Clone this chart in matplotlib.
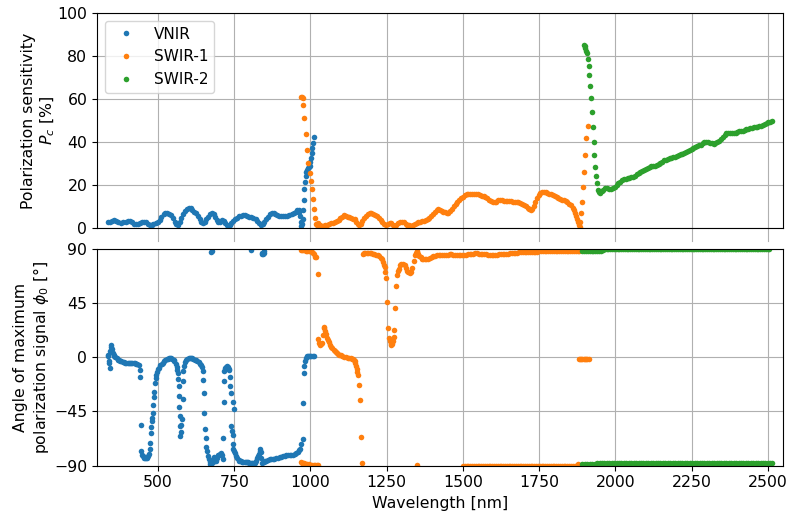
import numpy as np
import matplotlib
matplotlib.use("Agg")
import matplotlib.pyplot as plt

# ---------------- data (wavelength nm, value) ----------------
vnir_pc = [(335,3.0),(342,2.8),(350,3.3),(356,3.8),(363,3.4),(370,2.9),(378,2.5),(386,2.6),(394,3.0),(400,3.4),
 (407,3.2),(414,2.6),(421,2.0),(428,1.7),(435,2.0),(442,2.5),(449,2.9),(455,2.9),(461,2.6),(467,2.0),(473,1.6),
 (479,1.4),(485,1.8),(492,2.3),(499,2.6),(505,3.5),(511,5.0),(518,6.3),(524,7.1),(530,7.1),(537,6.6),(543,6.0),
 (549,4.6),(555,3.0),(560,2.0),(565,1.3),(571,2.6),(577,4.5),(583,6.3),(589,8.0),(595,9.0),(601,9.5),(607,9.3),
 (613,8.4),(619,7.5),(625,6.8),(631,5.5),(637,4.2),(642,3.0),(647,2.2),(653,3.0),(659,4.2),(665,5.2),(671,6.3),
 (677,6.8),(683,6.5),(688,5.0),(693,3.6),(698,2.9),(704,3.0),(710,3.6),(715,3.4),(720,2.2),(725,1.3),(730,0.9),
 (736,1.3),(741,2.2),(747,3.2),(753,4.2),(759,4.8),(765,5.4),(771,5.8),(778,6.0),(785,5.9),(792,5.6),(799,5.3),
 (806,5.0),(813,4.6),(820,4.0),(826,3.2),(832,2.4),(838,1.5),(843,1.7),(849,2.8),(855,4.0),(861,5.2),(867,6.3),
 (873,6.9),(879,7.1),(885,6.7),(891,6.0),(897,5.5),(903,5.4),(910,5.4),(917,5.5),(924,5.8),(931,6.0),(938,6.3),
 (945,6.8),(951,7.6),(956,8.2),(961,8.4),(964,7.5),(966,5.5),(968,3.0),(970,0.8),(972,2.0),(974,4.3),(976,8.5),
 (978,13.0),(980,18.0),(982,21.5),(984,24.0),(986,26.0),(988,27.0),(991,27.8),(994,28.3),(997,28.6),(1000,30.5),
 (1002,32.5),(1004,35.0),(1006,37.0),(1008,39.5),(1010,42.5)]

swir1_pc = [(969,61.1),(972,61.0),(974,60.6),(976,57.0),(980,51.2),(984,43.7),(989,36.4),(993,30.4),(998,25.7),
 (1002,21.9),(1005,18.0),(1009,13.5),(1013,8.7),(1016,4.5),(1019,2.0),(1022,1.2),(1024,2.2),(1030,1.5),(1036,1.0),
 (1042,1.0),(1048,1.3),(1055,1.6),(1062,1.9),(1068,2.1),(1074,2.3),(1080,2.8),(1086,3.3),(1092,3.7),(1098,4.5),
 (1104,5.3),(1110,6.0),(1116,5.7),(1122,5.2),(1128,5.0),(1134,4.7),(1140,4.3),(1145,4.0),(1150,3.0),(1155,2.0),
 (1160,1.3),(1165,2.0),(1170,3.2),(1176,4.5),(1182,5.8),(1188,6.7),(1194,7.1),(1200,7.1),(1206,6.7),(1212,6.2),
 (1218,5.5),(1224,4.6),(1230,3.8),(1236,2.8),(1242,2.0),(1248,1.4),(1254,1.8),(1260,2.2),(1265,2.2),(1270,1.5),
 (1276,0.9),(1282,1.5),(1288,2.2),(1294,2.8),(1300,2.9),(1306,2.6),(1312,2.0),(1318,1.6),(1324,1.2),(1330,1.1),
 (1336,1.5),(1342,2.0),(1348,2.5),(1354,2.8),(1360,3.0),(1366,3.2),(1372,3.4),(1378,3.7),(1384,4.2),(1390,4.8),
 (1396,5.5),(1402,6.5),(1408,7.6),(1414,8.5),(1419,8.7),(1425,8.3),(1430,7.8),(1435,7.6),(1441,7.3),(1447,7.1),
 (1452,7.2),(1458,8.0),(1464,9.0),(1470,10.0),(1476,11.0),(1482,12.0),(1488,13.0),(1494,13.9),(1500,14.6),
 (1506,15.2),(1512,15.6),(1518,15.8),(1524,15.8),(1530,15.8),(1537,15.7),(1543,15.7),(1549,15.6),(1556,15.4),
 (1562,15.1),(1568,14.7),(1574,14.3),(1580,13.8),(1586,13.1),(1592,12.5),(1598,12.0),(1604,11.9),(1610,12.3),
 (1616,12.8),(1622,13.0),(1628,12.9),(1634,12.6),(1640,12.5),(1646,12.6),(1652,12.6),(1658,12.5),(1664,12.3),
 (1670,12.3),(1676,12.2),(1682,12.0),(1688,11.5),(1694,11.0),(1700,10.5),(1706,10.0),(1712,9.5),(1718,9.0),
 (1724,8.5),(1728,8.6),(1733,10.0),(1738,12.0),(1743,14.0),(1748,15.5),(1753,16.3),(1759,16.7),(1765,16.9),
 (1771,16.8),(1777,16.5),(1783,16.0),(1789,15.6),(1795,15.2),(1801,14.8),(1807,14.4),(1813,14.0),(1819,13.6),
 (1825,13.2),(1831,12.8),(1837,12.4),(1843,11.9),(1849,11.3),(1855,10.5),(1860,9.5),(1865,8.3),(1869,7.0),
 (1872,5.5),(1875,4.0),(1877,2.8),(1880,1.5),(1883,0.6),(1885,2.6),(1888,6.8),(1891,12.2),(1895,18.9),
 (1898,26.2),(1901,34.1),(1905,41.7),(1909,47.6)]

swir2_pc = [(1896,85.1),(1899,84.5),(1901,83.6),(1904,82.5),(1907,81.3),(1909,78.4),(1912,75.3),(1915,71.2),
 (1918,66.2),(1921,60.3),(1923,53.8),(1925,46.8),(1929,40.1),(1931,34.0),(1934,28.5),(1936,24.2),(1940,20.8),
 (1943,17.7),(1946,16.8),(1950,16.4),(1955,17.0),(1960,17.8),(1967,18.5),(1973,18.6),(1980,18.3),(1986,18.2),
 (1992,18.5),(1998,19.2),(2004,20.0),(2010,20.8),(2016,21.5),(2022,22.1),(2028,22.6),(2034,22.9),(2040,23.1),
 (2046,23.3),(2052,23.5),(2058,23.9),(2064,24.4),(2070,25.0),(2076,25.6),(2082,26.1),(2088,26.4),(2094,26.8),
 (2100,27.4),(2106,28.0),(2112,28.4),(2118,28.7),(2124,28.8),(2130,28.9),(2136,29.1),(2142,29.6),(2148,30.3),
 (2154,30.9),(2160,31.4),(2166,31.8),(2172,32.1),(2178,32.4),(2184,32.7),(2190,32.9),(2196,33.2),(2202,33.6),
 (2208,34.0),(2214,34.3),(2220,34.6),(2226,34.9),(2232,35.3),(2238,35.8),(2244,36.3),(2250,36.8),(2256,37.2),
 (2262,37.6),(2268,38.0),(2274,38.4),(2280,38.8),(2286,39.3),(2292,39.8),(2298,40.2),(2304,40.2),(2310,39.7),
 (2316,39.3),(2322,39.1),(2328,39.4),(2334,40.0),(2340,40.6),(2346,41.3),(2352,42.2),(2358,43.2),(2364,44.0),
 (2370,44.3),(2376,44.2),(2382,44.0),(2388,44.1),(2394,44.4),(2400,44.7),(2406,44.9),(2412,45.1),(2418,45.3),
 (2424,45.6),(2430,45.9),(2436,46.2),(2442,46.4),(2448,46.6),(2454,46.8),(2460,46.9),(2466,47.1),(2472,47.3),
 (2478,47.6),(2484,47.9),(2490,48.3),(2496,48.7),(2502,49.1),(2508,49.5),(2514,49.8)]

vnir_phi = [(335,0.7),(337,2),(339,-3),(340,-4.8),(342,-9),(343,5),(345,8.9),(347,10.3),(349,7),(351,3.5),(354,2),
 (357,1),(360,0),(364,-1),(368,-2),(372,-2.5),(376,-3),(380,-3.5),(384,-4),(388,-4.3),(392,-4.5),(396,-4.8),
 (400,-4.8),(404,-4.8),(408,-4.9),(412,-5),(416,-5),(420,-5),(424,-5),(428,-5.2),(432,-5.5),(436,-6.2),
 (440,-10.3),(442,-16.7),(444,-56.4),(445,-77.8),(447,-81),(450,-82),(453,-83.5),(456,-84),(460,-84),(464,-83.5),
 (468,-82),(471,-80.6),(473,-76),(474,-71.7),(476,-63),(477,-58),(479,-53),(480,-50.2),(482,-46),(485,-39.3),
 (487,-33),(488,-29),(490,-21.3),(492,-17),(493,-14.5),(496,-12),(500,-10),(504,-8.9),(508,-6.8),(512,-5.5),
 (516,-4.5),(520,-3.2),(524,-2.3),(528,-1.6),(532,-1.2),(536,-0.8),(540,-0.6),(543,-0.7),(547,-1.3),(551,-2.4),
 (554,-3.4),(558,-5.5),(561,-8),(563,-10.5),(565,-13),(567,-18),(568,-23.5),(569,-32),(570,-41),(571,-49),
 (572,-57),(573,-65.4),(575,-62),(577,-56),(579,-51.7),(581,-35),(582,-20),(583,-11.7),(585,-7),(588,-4),
 (592,-2),(596,-1.2),(600,-0.8),(604,-0.6),(608,-0.7),(612,-1),(616,-1.5),(620,-2),(625,-2.6),(629,-3.4),
 (633,-4.3),(637,-5.2),(641,-6.2),(644,-8.5),(647,-11.7),(649,-18.6),(650,-29.6),(652,-46),(655,-59.3),
 (656,-66.8),(658,-75),(660,-78),(663,-82),(666,-85),(669,-87.4),(672,-89),(675,-89.5),(679,-87),(682,-85),
 (685,-83.3),(688,-84.5),(691,-86),(693,-83.5),(696,-81.4),(700,-81),(703,-80.5),(707,-79.8),(710,-81),
 (712,-84.7),(713,-67.4),(715,-37),(716,-20),(718,-11.7),(720,-9),(722,-8),(726,-7.6),(730,-8),(733,-9.5),
 (734,-10.3),(736,-16),(737,-23.5),(741,-30),(746,-37.3),(749,-43.4),(738,-57),(743,-61.3),(745,-65),
 (746,-72.3),(747,-76.4),(750,-78),(753,-80),(757,-82),(760,-84),(764,-85.5),(767,-86),(771,-86.5),(775,-87),
 (779,-87),(784,-87),(788,-87.2),(792,-87.3),(796,-87.4),(800,-87.5),(804,-87.5),(808,-87.5),(812,-87.5),
 (817,-87.5),(821,-86),(825,-84),(828,-82),(831,-80.6),(833,-78),(835,-76.4),(837,-79),(839,-84),(842,-87.5),
 (846,-87.3),(851,-86.5),(855,-86),(860,-85.5),(866,-85),(871,-84.8),(877,-84.7),(882,-84.5),(888,-84),
 (893,-83.6),(899,-83.3),(904,-82.8),(910,-82.3),(915,-81.8),(921,-81.4),(926,-81.5),(932,-81.6),(937,-81.4),
 (943,-81),(948,-80.4),(954,-79.8),(958,-79),(962,-77.5),(965,-75.9),(970,-72),(974,-68.2),(976,-38.4),
 (978,-13.1),(980,-7),(981,-3.5),(984,-1),(987,0.7),(991,0.8),(995,0.8),(999,0.7),(1003,0.7),(1007,0.7),
 (1011,0.7)]
vnir_phi_wrap = [(674,87.4),(676,88.5),(804,88.8),(840,87),(842,85.5),(844,86),(846,87),(848,88.5)]

swir1_phi = [(969,89.5),(973,89),(977,88.8),(981,88.8),(985,88.7),(990,88.5),(995,88.3),(1000,88),(1004,87.5),
 (1008,86.9),(1012,85.5),(1016,83.5),(1019,83.3),(1024,69.6),
 (1026,15),(1029,12),(1032,10.3),(1035,11),(1037,11.7),(1040,18.6),(1043,24),(1046,25.5),(1049,22),(1052,19.2),
 (1055,16),(1057,14.5),(1060,12.5),(1064,10.5),(1068,8.9),(1072,7.5),(1076,6.3),(1079,5.4),(1083,4.3),(1087,3.4),
 (1091,2.6),(1095,2.1),(1100,1.5),(1105,1),(1110,0.5),(1117,-0.2),(1122,-0.5),(1127,-0.8),(1132,-1),(1136,-1.1),
 (1139,-1.2),(1143,-2),(1145,-3.5),(1147,-4.8),(1150,-7),(1152,-9.5),(1154,-12),(1156,-15),(1159,-22.7),
 (1162,-35.7),(1165,-66),(1169,-88.3),
 (1172,86),(1176,86.8),(1180,87),(1185,87),(1190,86.8),(1195,86.5),(1200,86.3),(1205,86),(1210,85.7),(1215,85.3),
 (1221,84.7),(1226,83.8),(1230,82.5),(1234,81.3),(1238,79.5),(1241,77),(1243,75),(1246,71),(1249,66),(1252,45.6),
 (1255,24.6),(1258,16),(1260,13.6),(1263,11),(1265,9.8),(1268,11),(1271,13.1),(1273,17),(1275,22.7),(1278,41.2),
 (1282,59.3),(1285,68.2),(1288,71.5),(1290,73.7),(1294,76.5),(1298,77.8),(1303,77.8),(1309,76.4),(1314,74),
 (1318,72),(1320,70.9),(1325,70),(1331,70.9),(1334,74.2),(1339,80),(1343,84.7),(1346,87),(1348,88),(1351,87.5),
 (1353,86),(1357,84.5),(1361,83),(1365,82),(1369,81.4),(1374,81.3),(1380,81.7),(1386,82),(1392,82.8),(1397,83.4),
 (1402,83.9),(1408,84.5),(1414,84.9),(1420,85.2),(1426,85.3),(1432,85.3),(1438,85.3),(1444,85.3),(1450,85.4),
 (1456,85.5),(1462,85.5),(1468,85.4),(1474,85.3),(1480,85.2),(1486,85.1),(1492,85),(1498,84.8),(1504,84.8),
 (1510,85.2),(1516,85.6),(1522,85.9),(1528,86.1),(1534,86.2),(1540,86.3),(1546,86.3),(1552,86.2),(1558,86.1),
 (1564,86),(1570,85.8),(1576,85.6),(1582,85.3),(1588,85),(1594,84.8),(1600,84.7),(1606,85),(1612,85.4),
 (1618,85.8),(1624,86),(1630,86),(1636,86),(1642,86),(1648,86.1),(1654,86.3),(1660,86.5),(1666,86.7),(1672,86.9),
 (1678,87),(1684,87.1),(1690,87.2),(1696,87.3),(1702,87.4),(1708,87.4),(1714,87.4),(1720,87.4),(1726,87.4),
 (1732,87.4),(1738,87.6),(1744,87.8),(1750,88),(1756,88),(1762,88),(1768,88),(1774,88),(1780,88),(1786,88),
 (1792,88),(1798,88),(1804,88),(1810,88),(1816,88),(1822,88),(1828,88),(1834,88),(1840,88),(1846,88),(1852,88),
 (1858,88),(1864,88),(1870,88),(1876,88),(1882,88),
 (1880,-1.5),(1884,-1.5),(1888,-1.5),(1892,-1.5),(1896,-1.5),(1900,-1.5),(1904,-1.5),(1908,-1.5),(1912,-1.5)]
swir1_phi_wrap = [(969,-87),(972,-87.5),(976,-88),(980,-88.3),(985,-88.5),(990,-88.8),(995,-89),(1000,-89.2),
 (1005,-89.3),(1010,-89.4),(1015,-89.5),(1020,-89.6),(1025,-89.7),(1349,-89.2),
 (1500,-90.3),(1506,-90.3),(1512,-90.3),(1518,-90.3),(1524,-90.3),(1530,-90.3),(1536,-90.3),(1542,-90.3),
 (1548,-90.3),(1554,-90.3),(1560,-90.3),(1566,-90.3),(1572,-90.3),(1578,-90.3),(1584,-90.3),(1590,-90.3),
 (1596,-90.3),(1602,-90.3),(1608,-90.3),(1614,-90.3),(1620,-90.3),(1626,-90.3),(1632,-90.3),(1638,-90.3),
 (1644,-90.3),(1650,-90.3),(1656,-90.3),(1662,-90.3),(1668,-90.3),(1674,-90.3),(1680,-90.3),(1686,-90.3),
 (1692,-90.3),(1698,-90.3),(1704,-90.3),(1710,-90.3),(1716,-90.3),(1722,-90.3),(1728,-90.3),(1734,-90.3),
 (1740,-90.0),(1746,-90.0),(1752,-90.0),(1758,-90.0),(1764,-90.0),(1770,-90.0),(1776,-90.0),(1782,-90.0),
 (1788,-90.0),(1794,-90.0),(1800,-90.0),(1806,-90.0),(1812,-90.0),(1818,-90.0),(1824,-90.0),(1830,-90.0),
 (1836,-90.0),(1842,-90.0),(1848,-90.0),(1854,-90.0),(1860,-90.0),(1866,-90.0),(1872,-90.0),(1878,-88.5)]

swir2_phi_top = [(1892,88),(1898,88),(1904,88),(1910,88),(1916,88),(1922,88),(1928,88),(1934,88),(1940,88.2),
 (1946,88.4),(1952,88.6),(1958,88.8),
 (1965,90.3),(1971,90.3),(1977,90.3),(1983,90.3),(1989,90.3),(1995,90.3),(2001,90.3),(2007,90.3),(2013,90.3),
 (2019,90.3),(2025,90.3),(2031,90.3),(2037,90.3),(2043,90.3),(2049,90.3),(2055,90.3),(2061,90.3),(2067,90.3),
 (2073,90.3),(2079,90.3),(2085,90.3),(2091,90.3),(2097,90.3),(2103,90.3),(2109,90.3),(2115,90.3),(2121,90.3),
 (2127,90.3),(2133,90.3),(2139,90.3),(2145,90.3),(2151,90.3),(2157,90.3),(2163,90.3),(2169,90.3),(2175,90.3),
 (2181,90.3),(2187,90.3),(2193,90.3),(2199,90.3),(2205,90.3),(2211,90.3),(2217,90.3),(2223,90.3),(2229,90.3),
 (2235,90.3),(2241,90.3),(2247,90.3),(2253,90.3),(2259,90.3),(2265,90.3),(2271,90.3),(2277,90.3),(2283,90.3),
 (2289,90.3),(2295,90.3),(2301,90.3),(2307,90.3),(2313,90.3),(2319,90.3),(2325,90.3),(2331,90.3),(2337,90.3),
 (2343,90.3),(2349,90.3),(2355,90.3),(2361,90.3),(2367,90.3),(2373,90.3),(2379,90.3),(2385,90.3),(2391,90.3),
 (2397,90.3),(2403,90.3),(2409,90.3),(2415,90.3),(2421,90.3),(2427,90.3),(2433,90.3),(2439,90.3),(2445,90.3),
 (2451,90.3),(2457,90.3),(2463,90.3),(2469,90.3),(2475,90.3),(2481,90.3),(2487,90.3),(2493,90.3),(2499,90.3),
 (2505,90.3)]
swir2_phi_bot = [(1892,-88.6),(1900,-88.6),(1908,-88.5),(1916,-88.5),(1924,-88.4),(1932,-88.4),(1940,-88.3),
 (1948,-88.3),(1956,-88.2),(1964,-88.2),(1972,-88.1),(1980,-88.1),(1988,-88.0),(1996,-88.0),(2004,-88.0),
 (2012,-88.0),(2020,-87.9),(2028,-87.9),(2036,-87.9),(2044,-87.9),(2052,-87.9),(2060,-87.8),(2068,-87.8),
 (2076,-87.8),(2084,-87.8),(2092,-87.8),(2100,-87.8),(2108,-87.8),(2116,-87.8),(2124,-87.8),(2132,-87.8),
 (2140,-87.8),(2148,-87.8),(2156,-87.8),(2164,-87.8),(2172,-87.8),(2180,-87.7),(2188,-87.7),(2196,-87.7),
 (2204,-87.7),(2212,-87.7),(2220,-87.7),(2228,-87.7),(2236,-87.7),(2244,-87.7),(2252,-87.7),(2260,-87.7),
 (2268,-87.7),(2276,-87.7),(2284,-87.7),(2292,-87.7),(2300,-87.7),(2308,-87.7),(2316,-87.7),(2324,-87.7),
 (2332,-87.7),(2340,-87.7),(2348,-87.7),(2356,-87.7),(2364,-87.7),(2372,-87.7),(2380,-87.7),(2388,-87.7),
 (2396,-87.7),(2404,-87.7),(2412,-87.7),(2420,-87.7),(2428,-87.7),(2436,-87.7),(2444,-87.7),(2452,-87.7),
 (2460,-87.7),(2468,-87.7),(2476,-87.7),(2484,-87.7),(2492,-87.7),(2500,-87.7),(2508,-87.7),(2514,-87.7)]

labels = ["VNIR", "SWIR-1", "SWIR-2"]
colors = ["#1f77b4", "#ff7f0e", "#2ca02c"]
x_ticks = [500, 750, 1000, 1250, 1500, 1750, 2000, 2250, 2500]
pc_ticks = [0, 20, 40, 60, 80, 100]
phi_ticks = [-90, -45, 0, 45, 90]

# ---------------- plot ----------------
plt.rcParams['font.family'] = ['DejaVu Sans']
plt.rcParams['font.size'] = 11.3

fig = plt.figure(figsize=(7.87, 5.15), dpi=100)
ax1 = fig.add_axes([0.1233, 0.5573, 0.8717, 0.4175])
ax2 = fig.add_axes([0.1233, 0.0961, 0.8717, 0.4204], sharex=ax1)

def xy(pts):
    a = np.array(pts, dtype=float)
    return a[:, 0], a[:, 1]

mk = dict(marker='o', ms=4.0, mew=0, linestyle='none')
top_sets = [vnir_pc, swir1_pc, swir2_pc]
bot_sets = [vnir_phi + vnir_phi_wrap, swir1_phi + swir1_phi_wrap, swir2_phi_top + swir2_phi_bot]
for pts, lab, c in zip(top_sets, labels, colors):
    x, y = xy(pts)
    ax1.plot(x, y, color=c, label=lab, **mk)
for pts, c in zip(bot_sets, colors):
    x, y = xy(pts)
    ax2.plot(x, y, color=c, **mk)

for ax in (ax1, ax2):
    ax.grid(True, color='#b0b0b0', lw=0.8)
    ax.set_axisbelow(True)
    ax.set_xticks(x_ticks)

ax1.set_xlim(300, 2550)
ax1.set_ylim(0, 100)
ax1.set_yticks(pc_ticks)
ax2.set_ylim(-90, 90)
ax2.set_yticks(phi_ticks)
ax1.tick_params(axis='x', labelbottom=False, length=0)

# grid continuation across the gap between panels
for xt in x_ticks:
    ax1.axvline(xt, ymin=-0.06, ymax=0, clip_on=False, color='#b0b0b0', lw=0.8)

ax1.set_ylabel("Polarization sensitivity\n$P_c$ [%]", labelpad=0)
ax2.set_ylabel("Angle of maximum\npolarization signal $\\phi_0$ [°]", labelpad=2)
ax2.set_xlabel("Wavelength [nm]")

ax1.legend(loc='upper left', markerscale=1.0, fontsize=11)

fig.savefig("out.png", dpi=100)
